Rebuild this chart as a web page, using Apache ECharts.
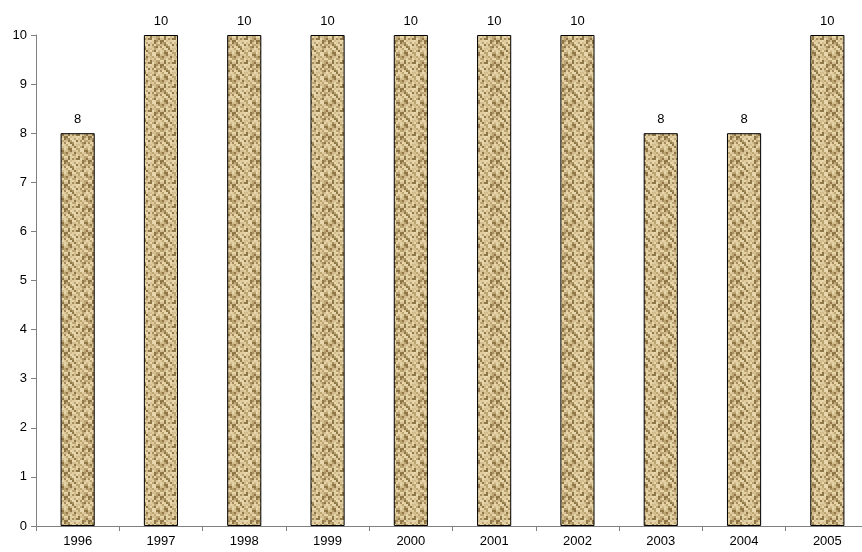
<!DOCTYPE html>
<html><head><meta charset="utf-8">
<script src="https://cdn.jsdelivr.net/npm/echarts@6/dist/echarts.min.js"></script>
<style>html,body{margin:0;padding:0;background:#fff;overflow:hidden;width:862px;height:552px}#c{width:869px;height:552px}</style>
</head><body><div id="c"></div>
<script>
var categories = ['1996','1997','1998','1999','2000','2001','2002','2003','2004','2005'];
var values = [8,10,10,10,10,10,10,8,8,10];
var yTicks = [0,1,2,3,4,5,6,7,8,9,10];

// burlap-like woven texture tile (style only)
function makeTexture(){
  var s = 24, cv = document.createElement('canvas');
  cv.width = s; cv.height = s;
  var g = cv.getContext('2d');
  var seed = 7;
  function rnd(){ seed = (seed * 16807) % 2147483647; return (seed - 1) / 2147483646; }
  g.fillStyle = '#cbb384'; g.fillRect(0,0,s,s);
  for (var y=0;y<s;y+=2){
    for (var x=0;x<s;x+=2){
      var weave = ((Math.floor(x/4)+Math.floor(y/4))%2===0);
      var v = rnd();
      var c;
      if (weave) c = v<0.3 ? '#8f7647' : (v<0.7 ? '#bca372' : '#dfcc9f');
      else c = v<0.2 ? '#a88d5d' : (v<0.6 ? '#d3bd8e' : '#e8d7ac');
      g.fillStyle = c; g.fillRect(x,y,2,2);
    }
  }
  return cv;
}
var chart = echarts.init(document.getElementById('c'), null, {renderer:'canvas'});
chart.setOption({
  animation:false,
  grid:{left:36,right:0,top:35,bottom:26,containLabel:false},
  xAxis:{type:'category',data:categories,
    axisLine:{lineStyle:{color:'#808080',width:1}},
    axisTick:{show:true,alignWithLabel:false,length:5,lineStyle:{color:'#808080'}},
    axisLabel:{color:'#000',fontFamily:'Liberation Sans, Arial',fontSize:13,margin:9}},
  yAxis:{type:'value',min:yTicks[0],max:yTicks[yTicks.length-1],interval:1,
    axisLine:{show:true,lineStyle:{color:'#808080',width:1}},
    axisTick:{show:true,length:5,lineStyle:{color:'#808080'}},
    splitLine:{show:false},
    axisLabel:{color:'#000',fontFamily:'Liberation Sans, Arial',fontSize:13,margin:9}},
  series:[{type:'bar',data:values,barWidth:'41%',
    itemStyle:{color:{image:makeTexture(),repeat:'repeat'},borderColor:'#000',borderWidth:1},
    label:{show:true,position:'top',distance:7,color:'#000',fontFamily:'Liberation Sans, Arial',fontSize:13}}]
});
</script></body></html>
